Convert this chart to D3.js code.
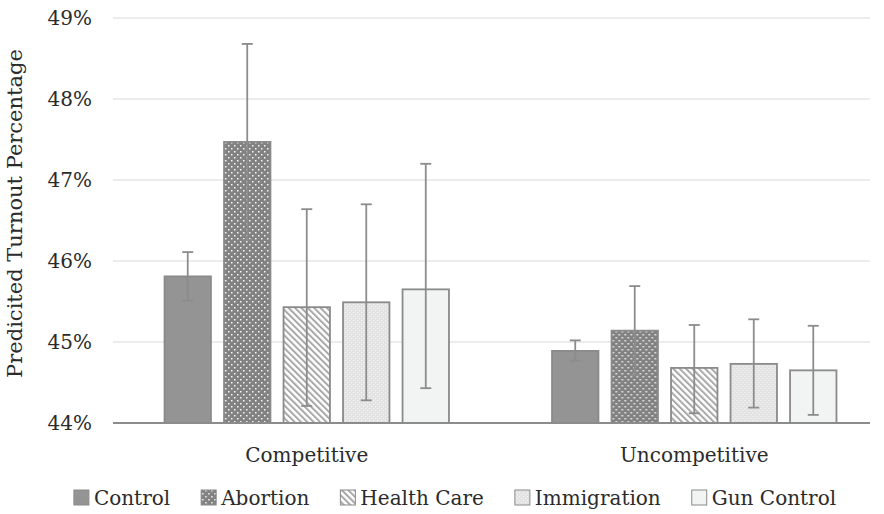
<!DOCTYPE html>
<html>
<head>
<meta charset="utf-8">
<script src="https://cdn.jsdelivr.net/npm/d3@7/dist/d3.min.js"></script>
<style>
  html, body { margin: 0; padding: 0; background: #ffffff; }
  svg { display: block; }
  text { font-family: "DejaVu Serif", "Liberation Serif", serif; fill: #2b2b2b; }
</style>
</head>
<body>
<svg id="chart" width="884" height="514"></svg>
<script>
// Race type groups and message treatments
const categories = ["Competitive", "Uncompetitive"];
const series = ["Control", "Abortion", "Health Care", "Immigration", "Gun Control"];

// Predicted turnout (%) with confidence bounds, one array per race type
const competitiveValues = [45.81, 47.47, 45.43, 45.49, 45.65];
const competitiveLow    = [45.51, 46.26, 44.21, 44.28, 44.43];
const competitiveHigh   = [46.11, 48.68, 46.64, 46.70, 47.20];

const uncompetitiveValues = [44.89, 45.14, 44.68, 44.73, 44.65];
const uncompetitiveLow    = [44.77, 44.59, 44.12, 44.19, 44.10];
const uncompetitiveHigh   = [45.02, 45.69, 45.21, 45.28, 45.20];

const yTicks = [44, 45, 46, 47, 48, 49];
const yTitle = "Predicited Turnout Percentage";

const rows = [
  { cat: categories[0], values: competitiveValues, low: competitiveLow, high: competitiveHigh },
  { cat: categories[1], values: uncompetitiveValues, low: uncompetitiveLow, high: uncompetitiveHigh }
];

const svg = d3.select("#chart");
const plotLeft = 113, gridRight = 870, plotTop = 18, plotBottom = 423;

const y = d3.scaleLinear().domain([44, 49]).range([plotBottom, plotTop]);
const x0 = d3.scaleBand().domain(categories).range([plotLeft, 888]);
const x1 = d3.scaleBand().domain(series).range([0, x0.bandwidth()])
  .paddingInner(0.22).paddingOuter(0.866);

// Fill patterns
const defs = svg.append("defs");

const pAb = defs.append("pattern").attr("id", "pat-abortion")
  .attr("patternUnits", "userSpaceOnUse").attr("width", 6).attr("height", 6);
pAb.append("rect").attr("width", 6).attr("height", 6).attr("fill", "#828282");
pAb.append("rect").attr("x", 1).attr("y", 1).attr("width", 1.5).attr("height", 1.5).attr("fill", "#f4f4f4");
pAb.append("rect").attr("x", 4).attr("y", 4).attr("width", 1.5).attr("height", 1.5).attr("fill", "#f4f4f4");

const pHc = defs.append("pattern").attr("id", "pat-health")
  .attr("patternUnits", "userSpaceOnUse").attr("width", 4.5).attr("height", 4.5)
  .attr("patternTransform", "rotate(-45)");
pHc.append("rect").attr("width", 4.5).attr("height", 4.5).attr("fill", "#ffffff");
pHc.append("rect").attr("width", 2).attr("height", 4.5).attr("fill", "#a8a8a8");

const pIm = defs.append("pattern").attr("id", "pat-immig")
  .attr("patternUnits", "userSpaceOnUse").attr("width", 4).attr("height", 4);
pIm.append("rect").attr("width", 4).attr("height", 4).attr("fill", "#e2e2e2");
pIm.append("rect").attr("x", 0).attr("y", 0).attr("width", 1.2).attr("height", 1.2).attr("fill", "#f7f7f7");
pIm.append("rect").attr("x", 2).attr("y", 2).attr("width", 1.2).attr("height", 1.2).attr("fill", "#f7f7f7");

const fills = {
  "Control": "#949494",
  "Abortion": "url(#pat-abortion)",
  "Health Care": "url(#pat-health)",
  "Immigration": "url(#pat-immig)",
  "Gun Control": "#f2f4f3"
};
const stroke = "#8a8a8a";

// Gridlines
svg.append("g").selectAll("line").data(yTicks.filter(t => t !== 44)).join("line")
  .attr("x1", plotLeft).attr("x2", gridRight)
  .attr("y1", d => y(d)).attr("y2", d => y(d))
  .attr("stroke", "#d9d9d9").attr("stroke-width", 1.2);

// Y tick labels
svg.append("g").selectAll("text").data(yTicks).join("text")
  .attr("x", 92).attr("y", d => y(d)).attr("dy", "0.35em")
  .attr("text-anchor", "end").attr("font-size", 20)
  .text(d => d + "%");

// Y axis title
svg.append("text")
  .attr("transform", `translate(22,${(plotTop + plotBottom) / 2 - 7}) rotate(-90)`)
  .attr("text-anchor", "middle").attr("font-size", 21)
  .text(yTitle);

// Bars
const groups = svg.append("g").selectAll("g").data(rows).join("g")
  .attr("transform", d => `translate(${x0(d.cat)},0)`);

groups.selectAll("rect").data(d => series.map((s, i) => ({ s, v: d.values[i] }))).join("rect")
  .attr("x", d => x1(d.s)).attr("width", x1.bandwidth())
  .attr("y", d => y(d.v)).attr("height", d => y(44) - y(d.v))
  .attr("fill", d => fills[d.s]).attr("stroke", stroke).attr("stroke-width", 1.8);

// Error bars
const errs = groups.selectAll("g.err")
  .data(d => series.map((s, i) => ({ s, lo: d.low[i], hi: d.high[i] }))).join("g")
  .attr("class", "err")
  .attr("transform", d => `translate(${x1(d.s) + x1.bandwidth() / 2},0)`)
  .attr("stroke", "#8c8c8c").attr("stroke-width", 1.8);
errs.append("line").attr("y1", d => y(d.lo)).attr("y2", d => y(d.hi));
errs.append("line").attr("x1", -5.5).attr("x2", 5.5).attr("y1", d => y(d.hi)).attr("y2", d => y(d.hi));
errs.append("line").attr("x1", -5.5).attr("x2", 5.5).attr("y1", d => y(d.lo)).attr("y2", d => y(d.lo));

// Baseline axis
svg.append("line").attr("x1", plotLeft).attr("x2", gridRight)
  .attr("y1", y(44)).attr("y2", y(44))
  .attr("stroke", "#8c8c8c").attr("stroke-width", 2);

// Category labels
svg.append("g").selectAll("text").data(categories).join("text")
  .attr("x", d => x0(d) + x0.bandwidth() / 2).attr("y", 462)
  .attr("text-anchor", "middle").attr("font-size", 20)
  .text(d => d);

// Legend, centred under the plot
const legend = svg.append("g");
const items = legend.selectAll("g").data(series).join("g");
items.append("rect").attr("width", 15).attr("height", 15).attr("y", 490)
  .attr("fill", d => fills[d]).attr("stroke", stroke).attr("stroke-width", 1);
items.append("text").attr("x", 20).attr("y", 505).attr("font-size", 20).text(d => d);
let cx = 0;
items.each(function () {
  const g = d3.select(this);
  g.attr("transform", `translate(${cx},0)`);
  cx += 20 + g.select("text").node().getComputedTextLength() + 31;
});
const total = cx - 31;
legend.attr("transform", `translate(${455 - total / 2},0)`);
</script>
</body>
</html>
